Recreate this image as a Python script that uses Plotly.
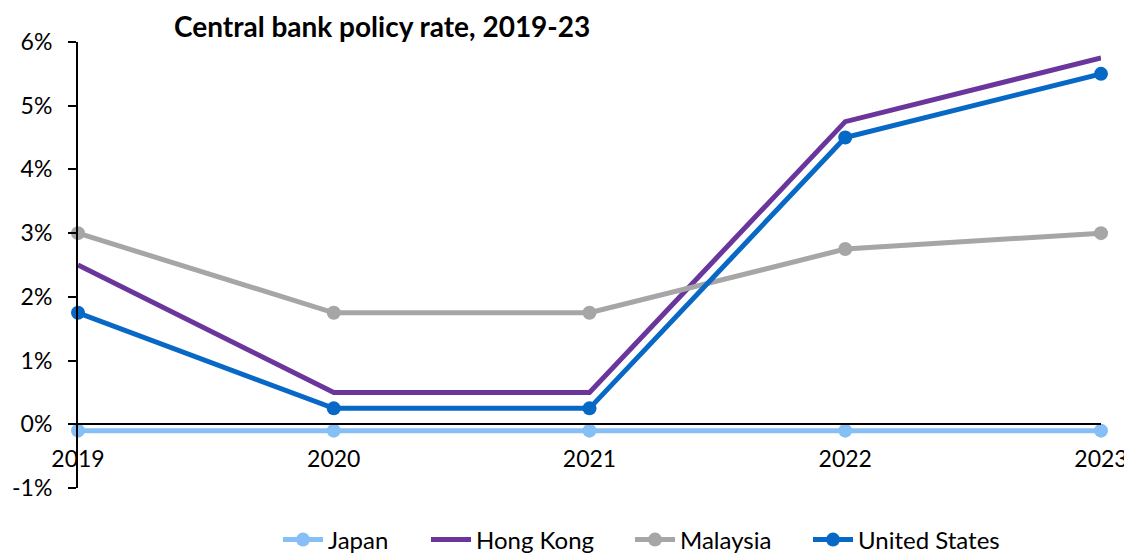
import plotly.graph_objects as go

years = [2019, 2020, 2021, 2022, 2023]
japan = [-0.1, -0.1, -0.1, -0.1, -0.1]
hong_kong = [2.5, 0.5, 0.5, 4.75, 5.75]
malaysia = [3.0, 1.75, 1.75, 2.75, 3.0]
united_states = [1.75, 0.25, 0.25, 4.5, 5.5]
y_ticks = [-1, 0, 1, 2, 3, 4, 5, 6]
y_tick_labels = ["-1%", "0%", "1%", "2%", "3%", "4%", "5%", "6%"]

FONT = "Lato"
# page is offset by the 8px body margin
W, H = 1124, 545
L, T, R, B = 70, 34, 31, 65
PW = W - L - R
PH = H - T - B

fig = go.Figure()
series = [
    ("Japan", japan, "#85BFF6", True, "legend", 328),
    ("Hong Kong", hong_kong, "#6A369C", False, "legend2", 476),
    ("Malaysia", malaysia, "#A6A6A6", True, "legend3", 680),
    ("United States", united_states, "#0868C6", True, "legend4", 858),
]
leg_common = dict(orientation="h", xanchor="left", yanchor="middle",
                  y=-(532 - (H - B)) / PH, font=dict(size=24),
                  itemwidth=40, bgcolor="rgba(0,0,0,0)")
legends = {}
for name, vals, color, mk, leg, text_x in series:
    fig.add_trace(go.Scatter(
        x=years, y=vals, name=name, legend=leg,
        mode="lines+markers" if mk else "lines",
        line=dict(color=color, width=5),
        marker=dict(size=14, color=color),
        cliponaxis=False,
    ))
    legends[leg] = dict(leg_common, x=(text_x - 8 - 50 - L) / PW)

fig.update_layout(
    width=W, height=H,
    margin=dict(l=L, r=R, t=T, b=B, autoexpand=False),
    plot_bgcolor="white", paper_bgcolor="white",
    font=dict(family=FONT, size=23, color="black"),
    title=dict(text="<b>Central bank policy rate, 2019-23</b>",
               x=166 / W, xref="container", xanchor="left",
               y=1 - 19 / H, yref="container", yanchor="middle",
               font=dict(family=FONT, size=28, color="black")),
    showlegend=True,
    **legends,
)
fig.update_xaxes(
    range=[2019, 2023], tickvals=years, ticktext=[str(y) for y in years],
    showgrid=False, zeroline=False, showline=True, linecolor="black", linewidth=2,
    anchor="free", position=1 / 7, ticks="", ticklabelstandoff=14, automargin=False,
)
fig.update_yaxes(
    range=[-1, 6], tickvals=y_ticks, ticktext=y_tick_labels,
    showgrid=False, zeroline=False, showline=True, linecolor="black", linewidth=2,
    ticks="outside", ticklen=8, tickwidth=2, tickcolor="black", ticklabelstandoff=11,
    automargin=False,
)
fig.write_html("out.html")
